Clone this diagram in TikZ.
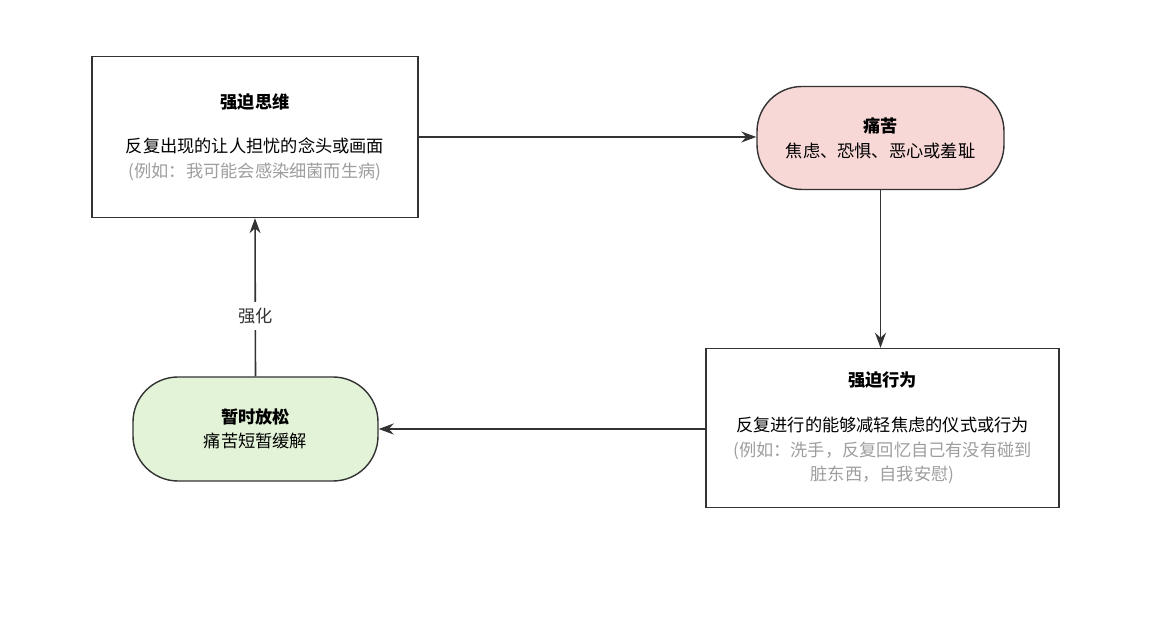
\documentclass[tikz,border=0pt]{standalone}
\usepackage{fontspec}
\setmainfont{Noto Sans CJK SC}
\usetikzlibrary{arrows.meta, positioning}
\definecolor{PainPink}{HTML}{F8D8D7}
\definecolor{ReliefGreen}{HTML}{E3F3D8}
\definecolor{NoteGray}{HTML}{9E9E9E}
\definecolor{LineDark}{HTML}{333333}

\begin{document}
\begin{tikzpicture}[
    box/.style={rectangle, draw=LineDark, line width=0.8pt, fill=white,
                align=center, font=\fontsize{9.8}{14}\selectfont, text=black},
    pill/.style={box, rounded corners=0.9cm},
    flow/.style={-{Stealth[length=3mm,width=2.2mm]}, LineDark, line width=0.9pt},
    note/.style={text=NoteGray}
]
    \useasboundingbox (0,0) rectangle (23.22,12.42);

    % Four stages of the cycle
    \node[box, minimum width=6.52cm, minimum height=3.22cm] (thought) at (5.1,9.68)
        {\textbf{强迫思维}\\[0.4cm]反复出现的让人担忧的念头或画面\\
         \textcolor{NoteGray}{(例如：我可能会感染细菌而生病)}};
    \node[pill, fill=PainPink, minimum width=4.94cm, minimum height=2.06cm] (pain) at (17.61,9.66)
        {\textbf{痛苦}\\焦虑、恐惧、恶心或羞耻};
    \node[box, minimum width=7.06cm, minimum height=3.18cm] (act) at (17.65,3.86)
        {\textbf{强迫行为}\\[0.4cm]反复进行的能够减轻焦虑的仪式或行为\\
         \textcolor{NoteGray}{(例如：洗手，反复回忆自己有没有碰到}\\
         \textcolor{NoteGray}{脏东西，自我安慰)}};
    \node[pill, fill=ReliefGreen, minimum width=4.9cm, minimum height=2.08cm] (relief) at (5.11,3.84)
        {\textbf{暂时放松}\\痛苦短暂缓解};

    % Arrows around the cycle
    \draw[flow] (thought.east) -- (pain.west |- thought.east);
    \draw[flow] (pain.south) -- (pain.south |- act.north);
    \draw[flow] (act.west |- relief.east) -- (relief.east);
    \draw[flow] (relief.north) -- node[pos=0.38, fill=white, font=\fontsize{9.8}{11}\selectfont] (boost) {强化} (thought.south);
\end{tikzpicture}
\end{document}
